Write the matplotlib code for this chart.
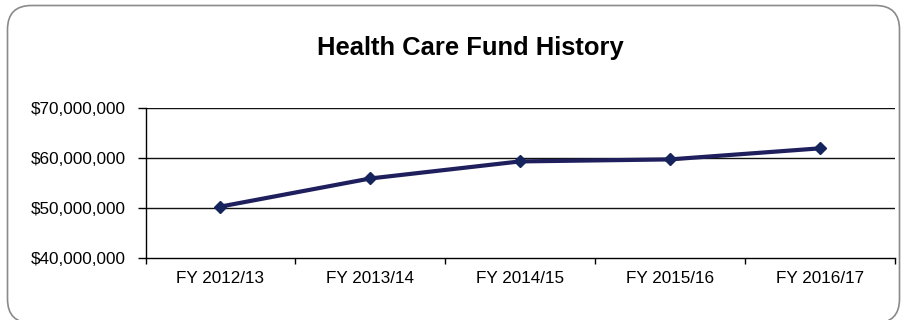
import matplotlib
matplotlib.use("Agg")
import matplotlib.pyplot as plt
from matplotlib.patches import FancyBboxPatch
from matplotlib.ticker import FuncFormatter, FixedLocator

plt.rcParams['font.family'] = ['Liberation Sans', 'DejaVu Sans']

categories = ["FY 2012/13", "FY 2013/14", "FY 2014/15", "FY 2015/16", "FY 2016/17"]
fund_values = [50_300_000, 55_900_000, 59_300_000, 59_700_000, 61_900_000]
y_ticks = [40_000_000, 50_000_000, 60_000_000, 70_000_000]
title = "Health Care Fund History"

W, H = 907, 320
fig = plt.figure(figsize=(W / 100, H / 100), dpi=100)

# background layer in pixel units holding the rounded outer frame
bg = fig.add_axes([0, 0, 1, 1], zorder=-1)
bg.set_xlim(0, W)
bg.set_ylim(H, 0)
bg.axis("off")
frame = FancyBboxPatch((7.5, 5.5), 899.5 - 7.5, 323 - 5.5,
                       boxstyle="round,pad=0,rounding_size=24",
                       facecolor="white", edgecolor="#8a8a8a", linewidth=1.2)
bg.add_patch(frame)

ax = fig.add_axes([145.5 / W, 1 - 258.3 / H, 749 / W, (258.3 - 107.7) / H])
ax.set_facecolor("none")

x = list(range(len(categories)))
ax.plot(x, fund_values, color="#1f1f5e", linewidth=3.0, marker="D",
        markersize=6.5, markerfacecolor="#15245c", markeredgecolor="#15245c",
        zorder=3, solid_capstyle="round")

ax.set_xlim(-0.5, len(categories) - 0.5)
ax.set_ylim(y_ticks[0], y_ticks[-1])

# horizontal gridlines
for yv in y_ticks[1:]:
    ax.axhline(yv, color="#111111", linewidth=1.0, zorder=1)

ax.yaxis.set_major_locator(FixedLocator(y_ticks))
ax.yaxis.set_major_formatter(FuncFormatter(lambda v, p: f"${v:,.0f}"))
ax.tick_params(axis="y", direction="out", length=6, width=1, color="black",
               pad=8, labelsize=12.3)

# category boundaries as ticks, labels centred between them
ax.xaxis.set_major_locator(FixedLocator([i - 0.5 for i in range(len(categories) + 1)]))
ax.xaxis.set_major_formatter(FuncFormatter(lambda v, p: ""))
ax.xaxis.set_minor_locator(FixedLocator(x))
ax.set_xticklabels(categories, minor=True)
ax.tick_params(axis="x", which="major", direction="out", length=4, width=1, color="black")
ax.tick_params(axis="x", which="minor", length=0, pad=9, labelsize=12.3)

for side in ("top", "right"):
    ax.spines[side].set_visible(False)
for side in ("left", "bottom"):
    ax.spines[side].set_color("black")
    ax.spines[side].set_linewidth(1.0)

fig.text(470 / W, 1 - 55 / H, title, ha="center", va="baseline",
         fontsize=18.4, fontweight="bold", color="black")

fig.savefig("out.png", dpi=100)
